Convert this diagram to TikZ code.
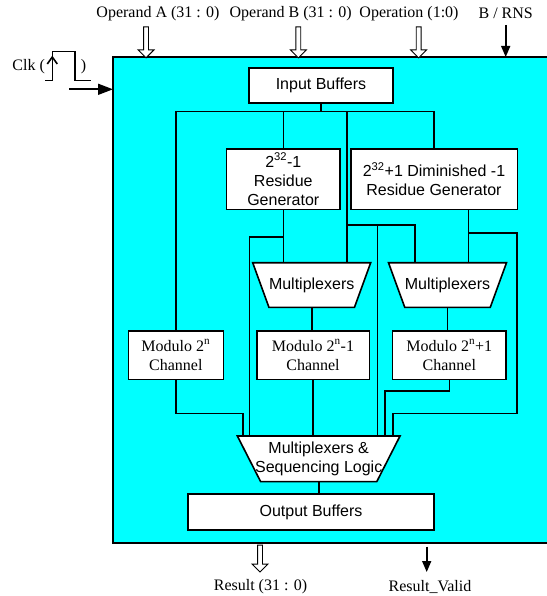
\documentclass[tikz,border=0pt]{standalone}
\usepackage{fontspec}
\setmainfont{Liberation Serif}
\newfontfamily\arialfont{Liberation Sans}
\usepackage{tikz}
\usetikzlibrary{positioning, shapes.geometric, shapes.arrows, arrows.meta, calc}
\usepackage{xcolor}
\definecolor{chipcyan}{HTML}{00FFFF}
\newcommand{\sansbig}{\arialfont\fontsize{16}{19}\selectfont}
\newcommand{\serifbig}{\rmfamily\fontsize{16}{19}\selectfont}

\begin{document}
\begin{tikzpicture}[x=1pt, y=-1pt,
    wire/.style={line width=1.6pt},
    blockbox/.style={draw, fill=white, line width=1.6pt, inner sep=0pt, align=center, font=\sansbig},
    chanbox/.style={draw, fill=white, line width=1.6pt, inner sep=0pt, align=center, font=\serifbig},
    muxbox/.style={trapezium, trapezium stretches body=true, shape border rotate=180, draw, fill=white,
          line width=1.6pt, inner sep=0pt},
    lbl/.style={inner sep=0pt, font=\serifbig},
    hollow/.style={single arrow, draw, fill=white, line width=0.9pt, inner sep=2pt,
          single arrow head extend=5.5pt, rotate=-90, anchor=tip},
    solidarr/.style={line width=1.6pt, -{Triangle[length=11pt, width=9pt]}}]
    \useasboundingbox (0,0) rectangle (546,596);

    % chip body
    \node[fill=chipcyan, inner sep=0pt, minimum width=435pt, minimum height=485.3pt, anchor=north west] (chip) at (113,57) {};
    \draw[line width=1.8pt] (chip.north east) -- (chip.north west) -- (chip.south west) -- (chip.south east);

    % inputs
    \node[lbl] (opa) at (158,13.3) {Operand A (31 : 0)};
    \node[lbl] (opb) at (290.7,13.3) {Operand B (31 : 0)};
    \node[lbl] (oper) at (409,13.3) {Operation (1:0)};
    \node[lbl] (brns) at (505.7,13.3) {B / RNS};
    \node[hollow, minimum height=31pt] (arra) at (146,58.5) {};
    \node[hollow, minimum height=31pt] (arrb) at (298.3,58.5) {};
    \node[hollow, minimum height=31pt] (arrop) at (418.7,58.5) {};
    \draw[solidarr] (brns.south) ++(0,6) -- (brns.south |- chip.north);

    % clock
    \node[lbl] (clk) at (28.7,66.7) {Clk (};
    \node[lbl] (clkr) at (83.5,66.7) {)};
    \draw[wire] (45,80.7) -- (52.3,80.7) -- (52.3,51.7) -- (75,51.7) -- (75,80.7) -- (90.5,80.7);
    \draw[wire] (47.3,64) -- (52.3,57) -- (57.3,64);
    \coordinate (clkin) at (69.3,89.3);
    \draw[line width=1.6pt, -{Triangle[length=15pt, width=11pt]}] (clkin) -- (clkin -| chip.west);

    % blocks
    \node[blockbox, minimum width=144pt, minimum height=35pt] (inbuf) at (321,85.8) {Input Buffers};
    \node[blockbox, minimum width=113.3pt, minimum height=60pt] (gen1) at (283.3,179.3)
          {2\textsuperscript{32}-1\\Residue\\Generator};
    \node[blockbox, minimum width=166.6pt, minimum height=60pt] (gen2) at (434,179.3)
          {2\textsuperscript{32}+1 Diminished -1\\Residue Generator};
    \node[muxbox, minimum width=118pt, trapezium left angle=70, trapezium right angle=70,
          label={[name=mux1txt, font=\sansbig]center:Multiplexers}] (mux1) at (311.7,285) {\rule{0pt}{44.6pt}};
    \node[muxbox, minimum width=118pt, trapezium left angle=70, trapezium right angle=70,
          label={[name=mux2txt, font=\sansbig]center:Multiplexers}] (mux2) at (447.5,285) {\rule{0pt}{44.6pt}};
    \node[chanbox, minimum width=95pt, minimum height=48.6pt] (modn) at (175.8,355)
          {Modulo 2\textsuperscript{n}\\Channel};
    \node[chanbox, minimum width=112.6pt, minimum height=48.6pt] (modn1) at (313,355)
          {Modulo 2\textsuperscript{n}-1\\Channel};
    \node[chanbox, minimum width=113.3pt, minimum height=48.6pt] (modn2) at (449.3,355)
          {Modulo 2\textsuperscript{n}+1\\Channel};
    \node[muxbox, minimum width=162.7pt, trapezium left angle=63, trapezium right angle=63,
          label={[name=seqtxt, font=\sansbig, align=center]center:{Multiplexers \&\\Sequencing Logic}}] (seq) at (318.7,458.8) {\rule{0pt}{45.7pt}};
    \node[blockbox, minimum width=245.7pt, minimum height=36pt] (outbuf) at (311,512) {Output Buffers};

    % wiring
    \coordinate (bus) at (0,111.7);
    \coordinate (byp) at (347,225);
    \coordinate (k1) at (242.7,413.3);
    \coordinate (k2) at (249.3,236.7);
    \coordinate (k4) at (377.3,225);
    \coordinate (k5) at (385,390.7);
    \coordinate (k6) at (392.7,413.3);
    \coordinate (g2out) at (468.3,209.3);
    \coordinate (k7) at (516.7,232.7);
    \draw[wire] (inbuf.south) -- (inbuf.south |- bus);
    \draw[wire] (modn.north) |- (gen2.north |- bus) -- (gen2.north);
    \draw[wire] (gen1.north) -- (gen1.north |- bus);
    \draw[wire] (byp |- bus) -- (byp |- mux1.north);
    \draw[wire] (byp) -| (415,0 |- mux2.north);
    \draw[wire] (k4) -- (k4 |- seq.north);
    \draw[wire] (gen1.south) -- (gen1.south |- mux1.north);
    \draw[wire] (gen1.south |- k2) -- (k2) -- (k2 |- seq.north);
    \draw[wire] (g2out) -- (g2out |- mux2.north);
    \draw[wire] (g2out |- k7) -- (k7) |- (k6) -- (k6 |- seq.north);
    \draw[wire] (mux1.south) -- (mux1.south |- modn1.north);
    \draw[wire] (mux2.south) -- (mux2.south |- modn2.north);
    \draw[wire] (modn.south) |- (k1) -- (k1 |- seq.north);
    \draw[wire] (modn1.south) -- (modn1.south |- seq.north);
    \draw[wire] (modn2.south) |- (k5) -- (k5 |- seq.north);
    \draw[wire] (seq.south) -- (seq.south |- outbuf.north);

    % outputs
    \node[lbl] (res) at (260.5,586.7) {Result (31 : 0)};
    \node[lbl] (rvalid) at (430,586.7) {Result\_Valid};
    \node[hollow, minimum height=27pt] (arrres) at (260,572.7) {};
    \coordinate (rvtip) at (426.7,572);
    \draw[solidarr] (chip.south -| rvtip) ++(0,4) -- (rvtip);
\end{tikzpicture}
\end{document}
